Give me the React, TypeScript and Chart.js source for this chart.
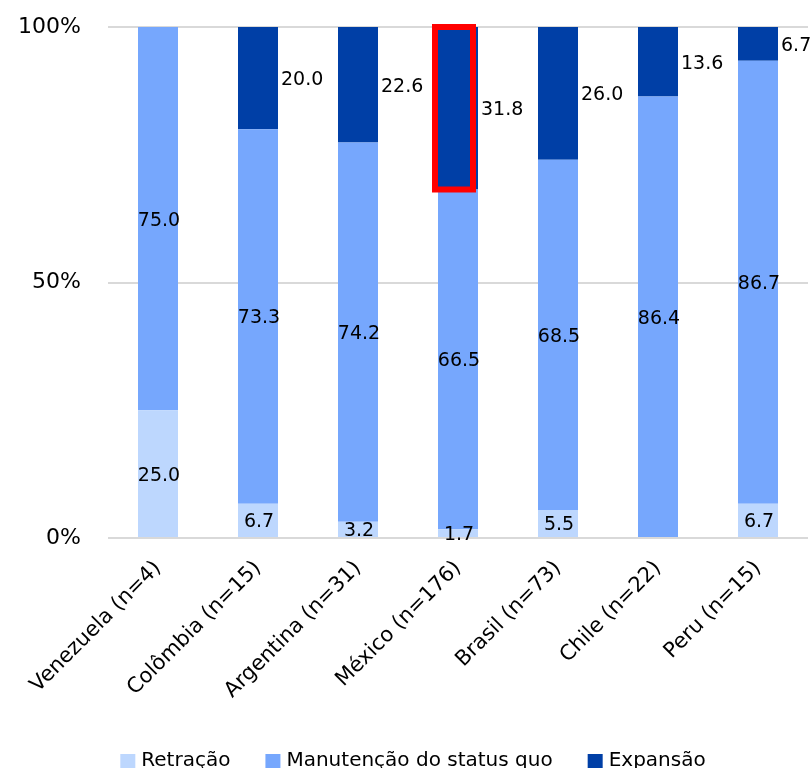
import React, { useEffect, useRef } from "react";
import { Chart, registerables } from "chart.js";

Chart.register(...registerables);

// Country groups (sample size in parentheses)
const categories = [
  "Venezuela (n=4)",
  "Colômbia (n=15)",
  "Argentina (n=31)",
  "México (n=176)",
  "Brasil (n=73)",
  "Chile (n=22)",
  "Peru (n=15)",
];

// Share of respondents per outlook, in percent
const retracao = [25.0, 6.7, 3.2, 1.7, 5.5, 0, 6.7];
const manutencao = [75.0, 73.3, 74.2, 66.5, 68.5, 86.4, 86.7];
const expansao = [0, 20.0, 22.6, 31.8, 26.0, 13.6, 6.7];

const seriesNames = ["Retração", "Manutenção do status quo", "Expansão"];
const seriesColors = ["#bdd7fe", "#76a7fd", "#003fa6"];
const yTickValues = [0, 50, 100];

// Segment outlined in red: México, Expansão
const highlightDataset = 2;
const highlightIndex = 3;

const FONT = "'DejaVu Sans', Verdana, sans-serif";

const valueLabels = {
  id: "valueLabels",
  afterDatasetsDraw(chart: any) {
    const ctx = chart.ctx;
    ctx.save();

    // red outline around the highlighted segment
    const hb = chart.getDatasetMeta(highlightDataset).data[highlightIndex];
    if (hb) {
      const { x, y, base, width } = hb.getProps(["x", "y", "base", "width"], true);
      ctx.strokeStyle = "#ff0000";
      ctx.lineWidth = 6;
      ctx.strokeRect(x - width / 2 - 3, y, width - 2, base - y);
    }

    ctx.font = `19px ${FONT}`;
    ctx.fillStyle = "#000";
    ctx.textBaseline = "middle";
    chart.data.datasets.forEach((ds: any, di: number) => {
      const meta = chart.getDatasetMeta(di);
      meta.data.forEach((bar: any, i: number) => {
        const v = ds.data[i];
        if (!v) return;
        const { x, y, base, width } = bar.getProps(["x", "y", "base", "width"], true);
        const cy = (y + base) / 2 + 2;
        const text = v.toFixed(1);
        if (di === 2) {
          ctx.textAlign = "left";
          ctx.fillText(text, x + width / 2 + 3, cy);
        } else {
          ctx.textAlign = "center";
          ctx.fillText(text, x + 1, cy);
        }
      });
    });
    ctx.restore();
  },
};

const bottomLegend = {
  id: "bottomLegend",
  afterDraw(chart: any) {
    const ctx = chart.ctx;
    ctx.save();
    ctx.font = `20px ${FONT}`;
    ctx.textBaseline = "alphabetic";
    ctx.textAlign = "left";
    const box = 15;
    const gap = 6;
    const spacing = 35;
    const items = chart.data.datasets.map((ds: any) => ({
      label: ds.label,
      color: ds.backgroundColor,
      w: box + gap + ctx.measureText(ds.label).width,
    }));
    const total =
      items.reduce((s: number, it: any) => s + it.w, 0) + spacing * (items.length - 1);
    let x = 413 - total / 2;
    const baseline = 766;
    items.forEach((it: any) => {
      ctx.fillStyle = it.color;
      ctx.fillRect(x, baseline - 12, box, box);
      ctx.fillStyle = "#000";
      ctx.fillText(it.label, x + box + gap, baseline);
      x += it.w + spacing;
    });
    ctx.restore();
  },
};

export default function App() {
  const ref = useRef<HTMLCanvasElement>(null);

  useEffect(() => {
    if (!ref.current) return;
    Chart.defaults.font.family = FONT;
    const series = [retracao, manutencao, expansao];
    const chart = new Chart(ref.current, {
      type: "bar",
      data: {
        labels: categories,
        datasets: series.map((data, i) => ({
          label: seriesNames[i],
          data,
          backgroundColor: seriesColors[i],
          borderWidth: 0,
          barPercentage: 0.4,
          categoryPercentage: 1.0,
        })),
      },
      options: {
        responsive: false,
        animation: false,
        layout: { padding: { top: 27, right: 3, left: 0, bottom: 0 } },
        plugins: {
          legend: { display: false },
          tooltip: { enabled: false },
        },
        scales: {
          x: {
            stacked: true,
            grid: { display: false },
            border: { display: false },
            ticks: {
              autoSkip: false,
              maxRotation: 45,
              minRotation: 45,
              color: "#000",
              font: { size: 21, family: FONT },
              padding: 10,
            },
            afterFit(scale: any) {
              scale.height = 230;
              scale.paddingTop = 0;
              scale.paddingBottom = 0;
              scale.paddingLeft = 0;
              scale.paddingRight = 0;
            },
          },
          y: {
            stacked: true,
            min: 0,
            max: 100,
            afterBuildTicks(scale: any) {
              scale.ticks = yTickValues.map((value) => ({ value }));
            },
            ticks: {
              color: "#000",
              font: { size: 22, family: FONT },
              padding: 27,
              callback: (v: any) => `${v}%`,
            },
            grid: { color: "#d9d9d9", lineWidth: 2, drawTicks: false },
            border: { display: false },
            afterFit(scale: any) {
              scale.width = 108;
              scale.paddingTop = 0;
              scale.paddingBottom = 0;
            },
          },
        },
      },
      plugins: [valueLabels, bottomLegend],
    });
    return () => chart.destroy();
  }, []);

  return (
    <div style={{ position: "absolute", left: 0, top: 0, width: 811, height: 768 }}>
      <canvas ref={ref} width={811} height={768} style={{ display: "block" }} />
    </div>
  );
}
